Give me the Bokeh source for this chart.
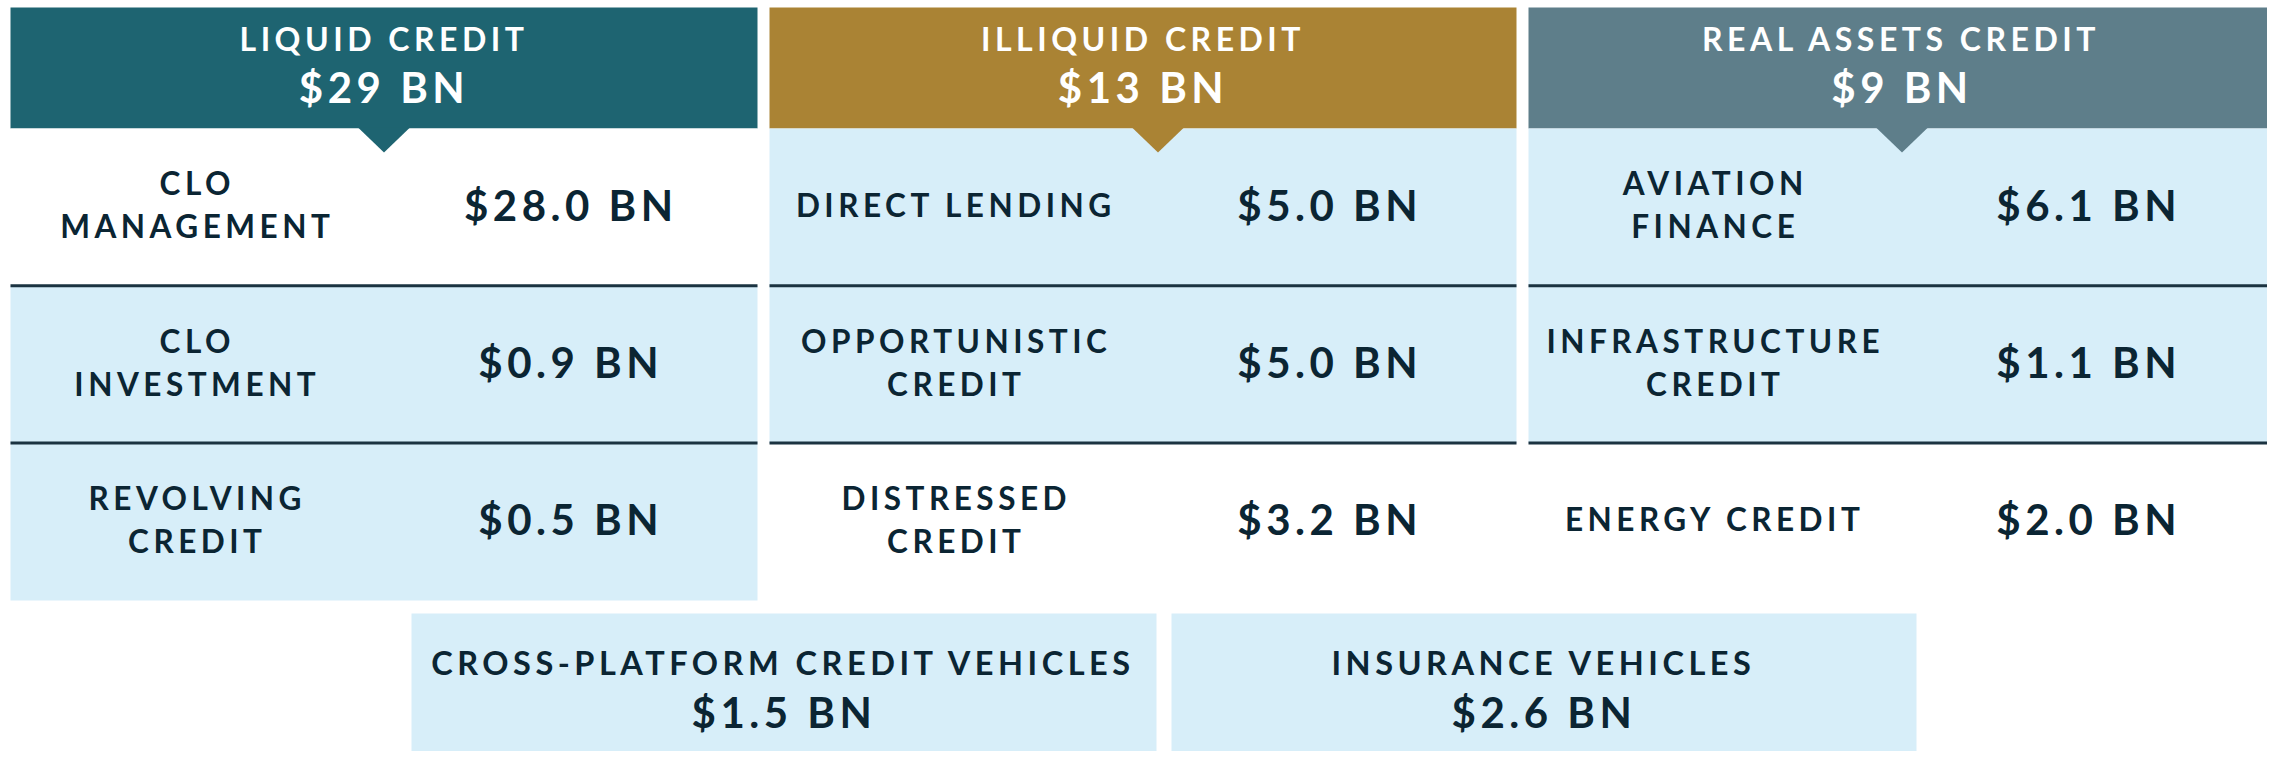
from bokeh.plotting import figure
from bokeh.models import ColumnDataSource, Range1d, InlineStyleSheet
from bokeh.core.properties import value, field
from bokeh.embed import file_html
from bokeh.resources import INLINE

# ---------------- data ----------------
groups = ["LIQUID CREDIT", "ILLIQUID CREDIT", "REAL ASSETS CREDIT"]
group_totals_bn = [29, 13, 9]

strategy_group = [0, 0, 0, 1, 1, 1, 2, 2, 2]
strategy_row = [0, 1, 2, 0, 1, 2, 0, 1, 2]
strategy_labels = [
    "CLO\nMANAGEMENT", "CLO\nINVESTMENT", "REVOLVING\nCREDIT",
    "DIRECT LENDING", "OPPORTUNISTIC\nCREDIT", "DISTRESSED\nCREDIT",
    "AVIATION\nFINANCE", "INFRASTRUCTURE\nCREDIT", "ENERGY CREDIT",
]
strategy_aum_bn = [28.0, 0.9, 0.5, 5.0, 5.0, 3.2, 6.1, 1.1, 2.0]

vehicle_labels = ["CROSS-PLATFORM CREDIT VEHICLES", "INSURANCE VEHICLES"]
vehicle_aum_bn = [1.5, 2.6]

# ---------------- style / layout ----------------
header_colors = ["#1E6471", "#AA8334", "#5E7E8A"]
pointer_shift = [0, 15, 0]
cell_shaded = [False, True, True, True, True, False, True, True, False]
LIGHT = "#D7EEF9"
INK = "#0B2533"
RULE = "#1B3341"
FONT = "Lato"
CAP = 0.7165
BASE_FIX = 0.37   # empirical baseline correction (em)
LS = 4.5  # letter spacing in px

COL_LEFT0, COL_W, COL_STEP = 10, 747, 759
HDR_TOP, HDR_BOT, ROW_H = 7, 128, 157.3
TRI_HALF, TRI_DEPTH = 26, 24
VEH_LEFT0, VEH_W, VEH_STEP, VEH_TOP, VEH_BOT = 411, 745, 760, 613, 770

W, H = 2267, 751
p = figure(width=W, height=H, output_backend="svg", toolbar_location=None,
           x_range=Range1d(0, W), y_range=Range1d(H, 0),
           x_axis_location=None, y_axis_location=None, min_border=0,
           background_fill_color="white", border_fill_color="white")
p.grid.visible = False
p.outline_line_color = None
p.stylesheets = [InlineStyleSheet(css=":host { letter-spacing: %spx; }" % LS)]

ncol = len(groups)
col_left = [COL_LEFT0 + i * COL_STEP for i in range(ncol)]
col_cx = [l + COL_W / 2 for l in col_left]

# header boxes
p.quad(left=col_left, right=[l + COL_W for l in col_left],
       top=[HDR_TOP] * ncol, bottom=[HDR_BOT] * ncol,
       fill_color=header_colors, line_color=None)

# strategy cells
c_left = [col_left[g] for g in strategy_group]
c_top = [HDR_BOT + r * ROW_H for r in strategy_row]
p.quad(left=c_left, right=[l + COL_W for l in c_left], top=c_top,
       bottom=[t + ROW_H for t in c_top],
       fill_color=[LIGHT if s else "white" for s in cell_shaded], line_color=None)

# header pointer triangles
tri_c = [c + s for c, s in zip(col_cx, pointer_shift)]
p.patches(xs=[[c - TRI_HALF, c + TRI_HALF, c] for c in tri_c],
          ys=[[HDR_BOT - 1, HDR_BOT - 1, HDR_BOT + TRI_DEPTH] for _ in tri_c],
          fill_color=header_colors, line_color=None)

# row rules
rx0, rx1, ry = [], [], []
for l in col_left:
    for k in (1, 2):
        rx0.append(l); rx1.append(l + COL_W); ry.append(HDR_BOT + k * ROW_H)
p.segment(x0=rx0, x1=rx1, y0=ry, y1=ry, line_color=RULE, line_width=3)

# vehicle boxes
nv = len(vehicle_labels)
v_left = [VEH_LEFT0 + i * VEH_STEP for i in range(nv)]
p.quad(left=v_left, right=[l + VEH_W for l in v_left], top=[VEH_TOP] * nv,
       bottom=[VEH_BOT] * nv, fill_color=LIGHT, line_color=None)

# ---------------- texts ----------------
T = dict(x=[], y=[], text=[], size=[], color=[], xoff=[])


def put(xc, yc, s, size_px, color, line_gap=0, baseline=None):
    lines = s.split("\n")
    n = len(lines)
    cap = CAP * size_px
    for k, ln in enumerate(lines):
        T["x"].append(xc)
        if baseline is not None:
            b = baseline
        else:
            b = yc + cap / 2 + (k - (n - 1) / 2) * line_gap
        T["y"].append(b - BASE_FIX * size_px)
        T["text"].append(ln)
        T["size"].append("%gpx" % size_px)
        T["color"].append(color)
        T["xoff"].append(-len(ln) * LS / 2)


for i, g in enumerate(groups):
    put(col_cx[i], 0, g, 32, "white", baseline=HDR_TOP + 43)
    put(col_cx[i], 0, "$%d BN" % group_totals_bn[i], 42, "white", baseline=HDR_TOP + 95)

for g, r, lab, v in zip(strategy_group, strategy_row, strategy_labels, strategy_aum_bn):
    yc = HDR_BOT + (r + 0.5) * ROW_H - 2
    put(col_left[g] + COL_W * 0.25, yc, lab, 31.5, INK, line_gap=43)
    put(col_left[g] + COL_W * 0.75, yc, "$%.1f BN" % v, 42, INK)

for i, (lab, v) in enumerate(zip(vehicle_labels, vehicle_aum_bn)):
    xc = v_left[i] + VEH_W / 2
    put(xc, 0, lab, 32.5, INK, baseline=VEH_TOP + 61)
    put(xc, 0, "$%.1f BN" % v, 42, INK, baseline=VEH_TOP + 114)

src = ColumnDataSource(T)
p.text(x="x", y="y", text="text", source=src, text_font=value(FONT),
       text_font_style="bold", text_font_size=field("size"),
       text_color=field("color"), text_align="center",
       text_baseline="alphabetic", x_offset=field("xoff"))

open("out.html", "w").write(file_html(p, INLINE))
